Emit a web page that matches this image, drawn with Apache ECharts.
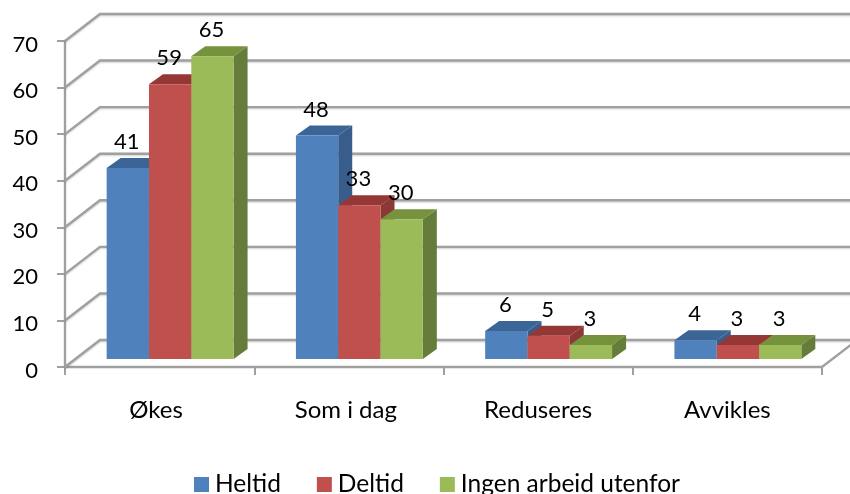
<!DOCTYPE html>
<html><head><meta charset="utf-8">
<script src="https://cdn.jsdelivr.net/npm/echarts@6/dist/echarts.min.js"></script>
<style>html,body{margin:0;padding:0;background:#fff}#c{width:850px;height:494px}</style>
</head><body><div id="c"></div>
<script>
const categories = ['Økes', 'Som i dag', 'Reduseres', 'Avvikles'];
const heltid = [41, 48, 6, 4];
const deltid = [59, 33, 5, 3];
const ingen = [65, 30, 3, 3];
const yTicks = [0, 10, 20, 30, 40, 50, 60, 70];

const FONT = 'Lato';
const GRID = '#a0a0a0';
const wall = {dx: 35, dy: -27};
const floor = {dx: 10.5, dy: -8};
const depth = {dx: 14, dy: -10};
const barW = 42.3;
const W = 850;

const chart = echarts.init(document.getElementById('c'), null, {renderer: 'canvas'});

function gridItem(params, api) {
  const v = api.value(0);
  const p = api.coord([categories[0], v]);
  const x0 = p[0] - api.size([1, 0])[0] / 2;
  const y = p[1];
  return {
    type: 'polyline', silent: true,
    shape: {points: [[x0, y], [x0 + wall.dx, y + wall.dy], [W + 10, y + wall.dy]]},
    style: {fill: null, stroke: GRID, lineWidth: 2.4, shadowColor: 'rgba(0,0,0,0.18)', shadowBlur: 2, shadowOffsetY: 1}
  };
}

function rightEdge(params, api) {
  const p = api.coord([categories[categories.length - 1], 0]);
  const x = p[0] + api.size([1, 0])[0] / 2;
  return {
    type: 'polyline', silent: true,
    shape: {points: [[x, p[1]], [x + wall.dx, p[1] + wall.dy]]},
    style: {fill: null, stroke: GRID, lineWidth: 2.4}
  };
}

function barSeries(name, values, idx, front, top, side) {
  return {
    name, type: 'custom', z: 5, clip: false,
    itemStyle: {color: front},
    data: values.map((v, i) => [categories[i], v]),
    encode: {x: 0, y: 1},
    renderItem(params, api) {
      const c = api.coord([api.value(0), api.value(1)]);
      const b = api.coord([api.value(0), 0]);
      const x = c[0] + floor.dx + (idx - 1.5) * barW;
      const yT = c[1] + floor.dy, yB = b[1] + floor.dy;
      const x2 = x + barW;
      const d = depth;
      return {
        type: 'group',
        children: [
          {type: 'polygon', shape: {points: [[x2, yT], [x2 + d.dx, yT + d.dy], [x2 + d.dx, yB + d.dy], [x2, yB]]}, style: {fill: side}},
          {type: 'polygon', shape: {points: [[x, yT], [x + d.dx, yT + d.dy], [x2 + d.dx, yT + d.dy], [x2, yT]]}, style: {fill: top}},
          {type: 'rect', shape: {x, y: yT, width: barW, height: yB - yT}, style: {fill: front}},
          {type: 'text', z2: 100, style: {x: x + barW / 2 - 1, y: yT - 26, text: String(api.value(1)), font: '22px ' + FONT, fill: '#000', align: 'center', verticalAlign: 'middle'}}
        ]
      };
    }
  };
}

const catStyle = {fontFamily: FONT, fontSize: 24, color: '#000'};

chart.setOption({
  animation: false,
  backgroundColor: '#fff',
  color: ['#4f81bd', '#c0504d', '#9bbb59'],
  textStyle: {fontFamily: FONT},
  grid: {left: 65, right: 28, top: 41, bottom: 127, containLabel: false},
  legend: {
    left: 189, top: 467, itemWidth: 15, itemHeight: 15, itemGap: 36,
    icon: 'rect', selectedMode: false,
    data: ['Heltid', 'Deltid', 'Ingen arbeid utenfor'],
    textStyle: {fontFamily: FONT, fontSize: 24.5, color: '#000', padding: [0, 0, 0, 1]}
  },
  xAxis: {
    type: 'category', data: categories,
    axisLine: {lineStyle: {color: GRID, width: 2.4}},
    axisTick: {show: true, length: 8, alignWithLabel: false, lineStyle: {color: GRID, width: 2}},
    axisLabel: {
      margin: 31, interval: 0,
      fontFamily: FONT, fontSize: 24, color: '#000',
      formatter: (v, i) => `{c${i}|${v}}`,
      rich: {
        c0: {...catStyle, padding: [0, 7, 0, 0]},
        c1: {...catStyle, padding: [0, 6, 0, 0]},
        c2: {...catStyle},
        c3: {...catStyle}
      }
    },
    splitLine: {show: false}
  },
  yAxis: {
    type: 'value', min: 0, max: 70, interval: 10,
    axisLine: {show: true, lineStyle: {color: GRID, width: 2.4}},
    axisTick: {show: true, length: 8, lineStyle: {color: GRID, width: 2}},
    axisLabel: {
      margin: 27, fontFamily: FONT, fontSize: 22, color: '#000',
      formatter: v => `{n|${v}}`,
      rich: {n: {fontFamily: FONT, fontSize: 22, color: '#000', padding: [7, 0, 0, 0]}}
    },
    splitLine: {show: false}
  },
  series: [
    {type: 'custom', name: 'grid', z: 1, clip: false, silent: true, data: yTicks.map(v => [v]), encode: {y: 0}, renderItem: gridItem},
    {type: 'custom', name: 'edge', z: 1, clip: false, silent: true, data: [[0]], encode: {y: 0}, renderItem: rightEdge},
    barSeries('Heltid', heltid, 0, '#4f81bd', '#3b6497', '#385d8a'),
    barSeries('Deltid', deltid, 1, '#c0504d', '#953735', '#8c3836'),
    barSeries('Ingen arbeid utenfor', ingen, 2, '#9bbb59', '#76923c', '#657c3a')
  ]
});
</script></body></html>
